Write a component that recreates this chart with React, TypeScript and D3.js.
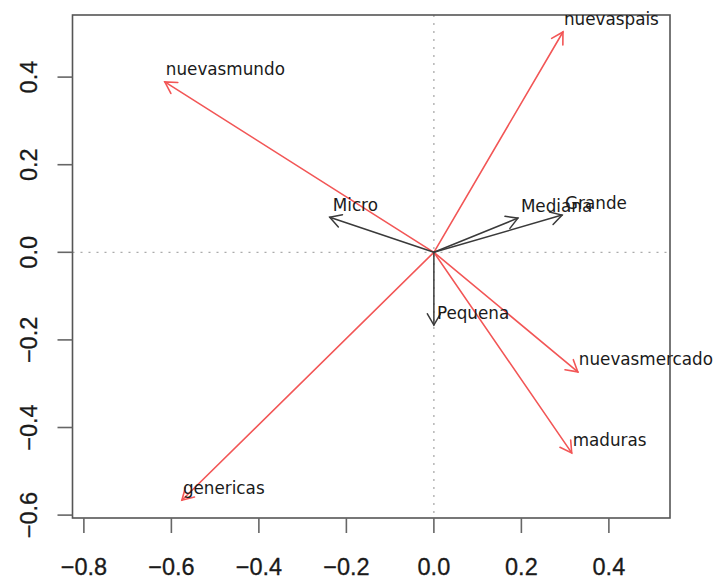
import React from "react";
import * as d3 from "d3";

const blackNames = ["Micro", "Pequena", "Mediana", "Grande"];
const blackX = [-0.238, 0.0, 0.192, 0.293];
const blackY = [0.08, -0.166, 0.078, 0.085];

const redNames = ["nuevaspais", "nuevasmundo", "nuevasmercado", "maduras", "genericas"];
const redX = [0.295, -0.615, 0.329, 0.315, -0.576];
const redY = [0.503, 0.389, -0.273, -0.458, -0.566];

const xTicks = [-0.8, -0.6, -0.4, -0.2, 0.0, 0.2, 0.4];
const yTicks = [-0.6, -0.4, -0.2, 0.0, 0.2, 0.4];

const W = 720;
const H = 580;
const box = { left: 72.5, right: 670, top: 15, bottom: 518 };

const x = d3.scaleLinear().domain([-0.826, 0.5397]).range([box.left, box.right]);
const y = d3.scaleLinear().domain([-0.6066, 0.5418]).range([box.bottom, box.top]);

const fmt = (v: number) => d3.format(".1f")(v).replace("-", "\u2212");

function Arrow({ x1, y1, color, width }: { x1: number; y1: number; color: string; width: number }) {
  const x0 = x(0), y0 = y(0);
  const px = x(x1), py = y(y1);
  const ang = Math.atan2(py - y0, px - x0);
  const len = 13;
  const a = Math.PI / 6;
  const b1 = [px - len * Math.cos(ang - a), py - len * Math.sin(ang - a)];
  const b2 = [px - len * Math.cos(ang + a), py - len * Math.sin(ang + a)];
  return (
    <g stroke={color} strokeWidth={width} fill="none" strokeLinecap="round">
      <line x1={x0} y1={y0} x2={px} y2={py} />
      <path d={`M${b1[0]},${b1[1]}L${px},${py}L${b2[0]},${b2[1]}`} />
    </g>
  );
}

export default function App() {
  const labelFont = "'DejaVu Sans', Verdana, sans-serif";
  const tickFont = "'Liberation Sans', Arial, Helvetica, sans-serif";
  return (
    <svg
      width={W}
      height={H}
      style={{ position: "absolute", left: 0, top: 0, background: "#fff" }}
    >
      <rect x={0} y={0} width={W} height={H} fill="#fff" />
      {/* dotted reference lines */}
      <line x1={x(0)} x2={x(0)} y1={box.top} y2={box.bottom} stroke="#aaa" strokeWidth={1.3} strokeDasharray="2 6" />
      <line x1={box.left} x2={box.right} y1={y(0)} y2={y(0)} stroke="#aaa" strokeWidth={1.3} strokeDasharray="2 6" />

      {/* box */}
      <rect
        x={box.left}
        y={box.top}
        width={box.right - box.left}
        height={box.bottom - box.top}
        fill="none"
        stroke="#555"
        strokeWidth={1.6}
      />

      {/* x axis ticks */}
      {xTicks.map((t) => (
        <g key={"xt" + t}>
          <line x1={x(t)} x2={x(t)} y1={box.bottom} y2={box.bottom + 15} stroke="#666" strokeWidth={1.6} />
          <text x={x(t)} y={575} textAnchor="middle" fontFamily={tickFont} fontSize={23.5} fill="#1a1a1a" stroke="#1a1a1a" strokeWidth={0.3}>
            {fmt(t)}
          </text>
        </g>
      ))}
      {/* y axis ticks */}
      {yTicks.map((t) => (
        <g key={"yt" + t}>
          <line x1={box.left - 15} x2={box.left} y1={y(t)} y2={y(t)} stroke="#666" strokeWidth={1.6} />
          <text
            transform={`translate(37,${y(t)}) rotate(-90)`}
            textAnchor="middle"
            fontFamily={tickFont}
            fontSize={23.5}
            fill="#1a1a1a"
            stroke="#1a1a1a"
            strokeWidth={0.3}
          >
            {fmt(t)}
          </text>
        </g>
      ))}

      {/* red arrows */}
      {redNames.map((n, i) => (
        <Arrow key={n} x1={redX[i]} y1={redY[i]} color="#f25656" width={1.6} />
      ))}
      {/* black arrows */}
      {blackNames.map((n, i) => (
        <Arrow key={n} x1={blackX[i]} y1={blackY[i]} color="#3a3a3a" width={1.5} />
      ))}

      {/* labels */}
      {redNames.map((n, i) => (
        <text key={"l" + n} x={x(redX[i]) + 1} y={y(redY[i]) - 6.5} fontFamily={labelFont} fontSize={16.8} fill="#1a1a1a">
          {n}
        </text>
      ))}
      {blackNames.map((n, i) => (
        <text key={"l" + n} x={x(blackX[i]) + 3} y={y(blackY[i]) - 6.5} fontFamily={labelFont} fontSize={16.8} fill="#1a1a1a">
          {n}
        </text>
      ))}
    </svg>
  );
}
